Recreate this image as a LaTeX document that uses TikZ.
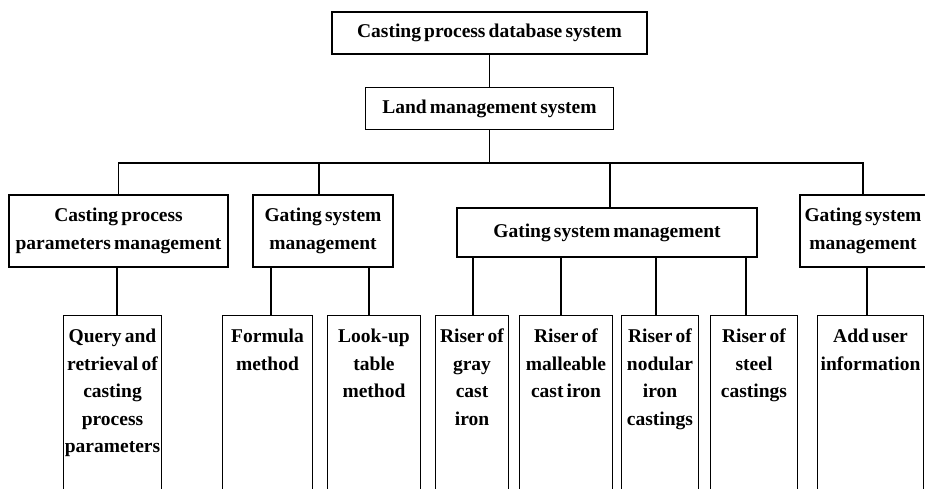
\documentclass[tikz,border=0pt]{standalone}
\usepackage{fontspec}
\setmainfont{Liberation Serif}[WordSpace=0.65]
\usepackage{tikz}
\usetikzlibrary{positioning, calc}
\tikzset{
  box/.style  ={draw, line width=1.4pt, align=center, inner sep=2pt,
                font=\fontsize{19.5}{27.5}\selectfont\bfseries},
  grp/.style  ={box, minimum height=72pt},
  leaf/.style ={draw, line width=1.4pt, align=flush center, anchor=north,
                inner xsep=1pt, inner ysep=3pt, text width=#1,
                text height=24pt, text depth=190pt,
                font=\fontsize{19.5}{27.5}\selectfont\bfseries},
  conn/.style ={line width=1.4pt},
}
\begin{document}
\begin{tikzpicture}[x=1pt, y=-1pt]
  \useasboundingbox (0,0) rectangle (925,489);
  \clip (0,0) rectangle (925,489);
  % top of the tree
  \node[box, minimum width=315pt, minimum height=42pt] (db) at (489.5,33) {Casting process database system};
  \node[box, minimum width=248pt, minimum height=42pt, below=32pt of db] (land) {Land management system};
  \coordinate[below=33pt of land] (bus);
  \draw[conn] (db) -- (land);
  \draw[conn] (land) -- (bus);

  % second level
  \node[grp, minimum width=219pt] (cpm) at (118.5,231) {Casting process\\parameters management};
  \node[grp, minimum width=140pt] (gs1) at (323,231) {Gating system\\management};
  \node[grp, minimum width=300pt, minimum height=49pt] (gs2) at (607,232.5) {Gating system management};
  \node[grp, minimum width=126pt] (gs3) at (863,231) {Gating system\\management};
  \draw[conn] (cpm.north) |- (bus) -| (gs3.north);
  \draw[conn] ([xshift=-4pt]gs1.north) -- ([xshift=-4pt]gs1.north |- bus);
  \draw[conn] ([xshift=3pt]gs2.north) -- ([xshift=3pt]gs2.north |- bus);

  % leaves
  \node[leaf=96pt] (qr) at (112.5,315) {Query and\\retrieval of\\casting\\process\\parameters};
  \node[leaf=88pt] (fm) at (267.5,315) {Formula\\method};
  \node[leaf=91pt] (lt) at (374,315)   {Look-up\\table\\method};
  \node[leaf=71pt] (r1) at (472,315)   {Riser of\\gray\\cast\\iron};
  \node[leaf=91pt] (r2) at (566,315)   {Riser of\\malleable\\cast iron};
  \node[leaf=75pt] (r3) at (660,315)   {Riser of\\nodular\\iron\\castings};
  \node[leaf=85pt] (r4) at (754,315)   {Riser of\\steel\\castings};
  \node[leaf=104pt] (au) at (870.5,315) {Add user\\information};
  \foreach \n/\p/\dx in {qr/cpm/4.5, fm/gs1/3.5, lt/gs1/-5, r1/gs2/1, r2/gs2/-5,
                         r3/gs2/-4, r4/gs2/-8, au/gs3/-3.5}
    \draw[conn] ([xshift=\dx pt]\n.north) -- ([xshift=\dx pt]\n.north |- \p.south);
\end{tikzpicture}
\end{document}
